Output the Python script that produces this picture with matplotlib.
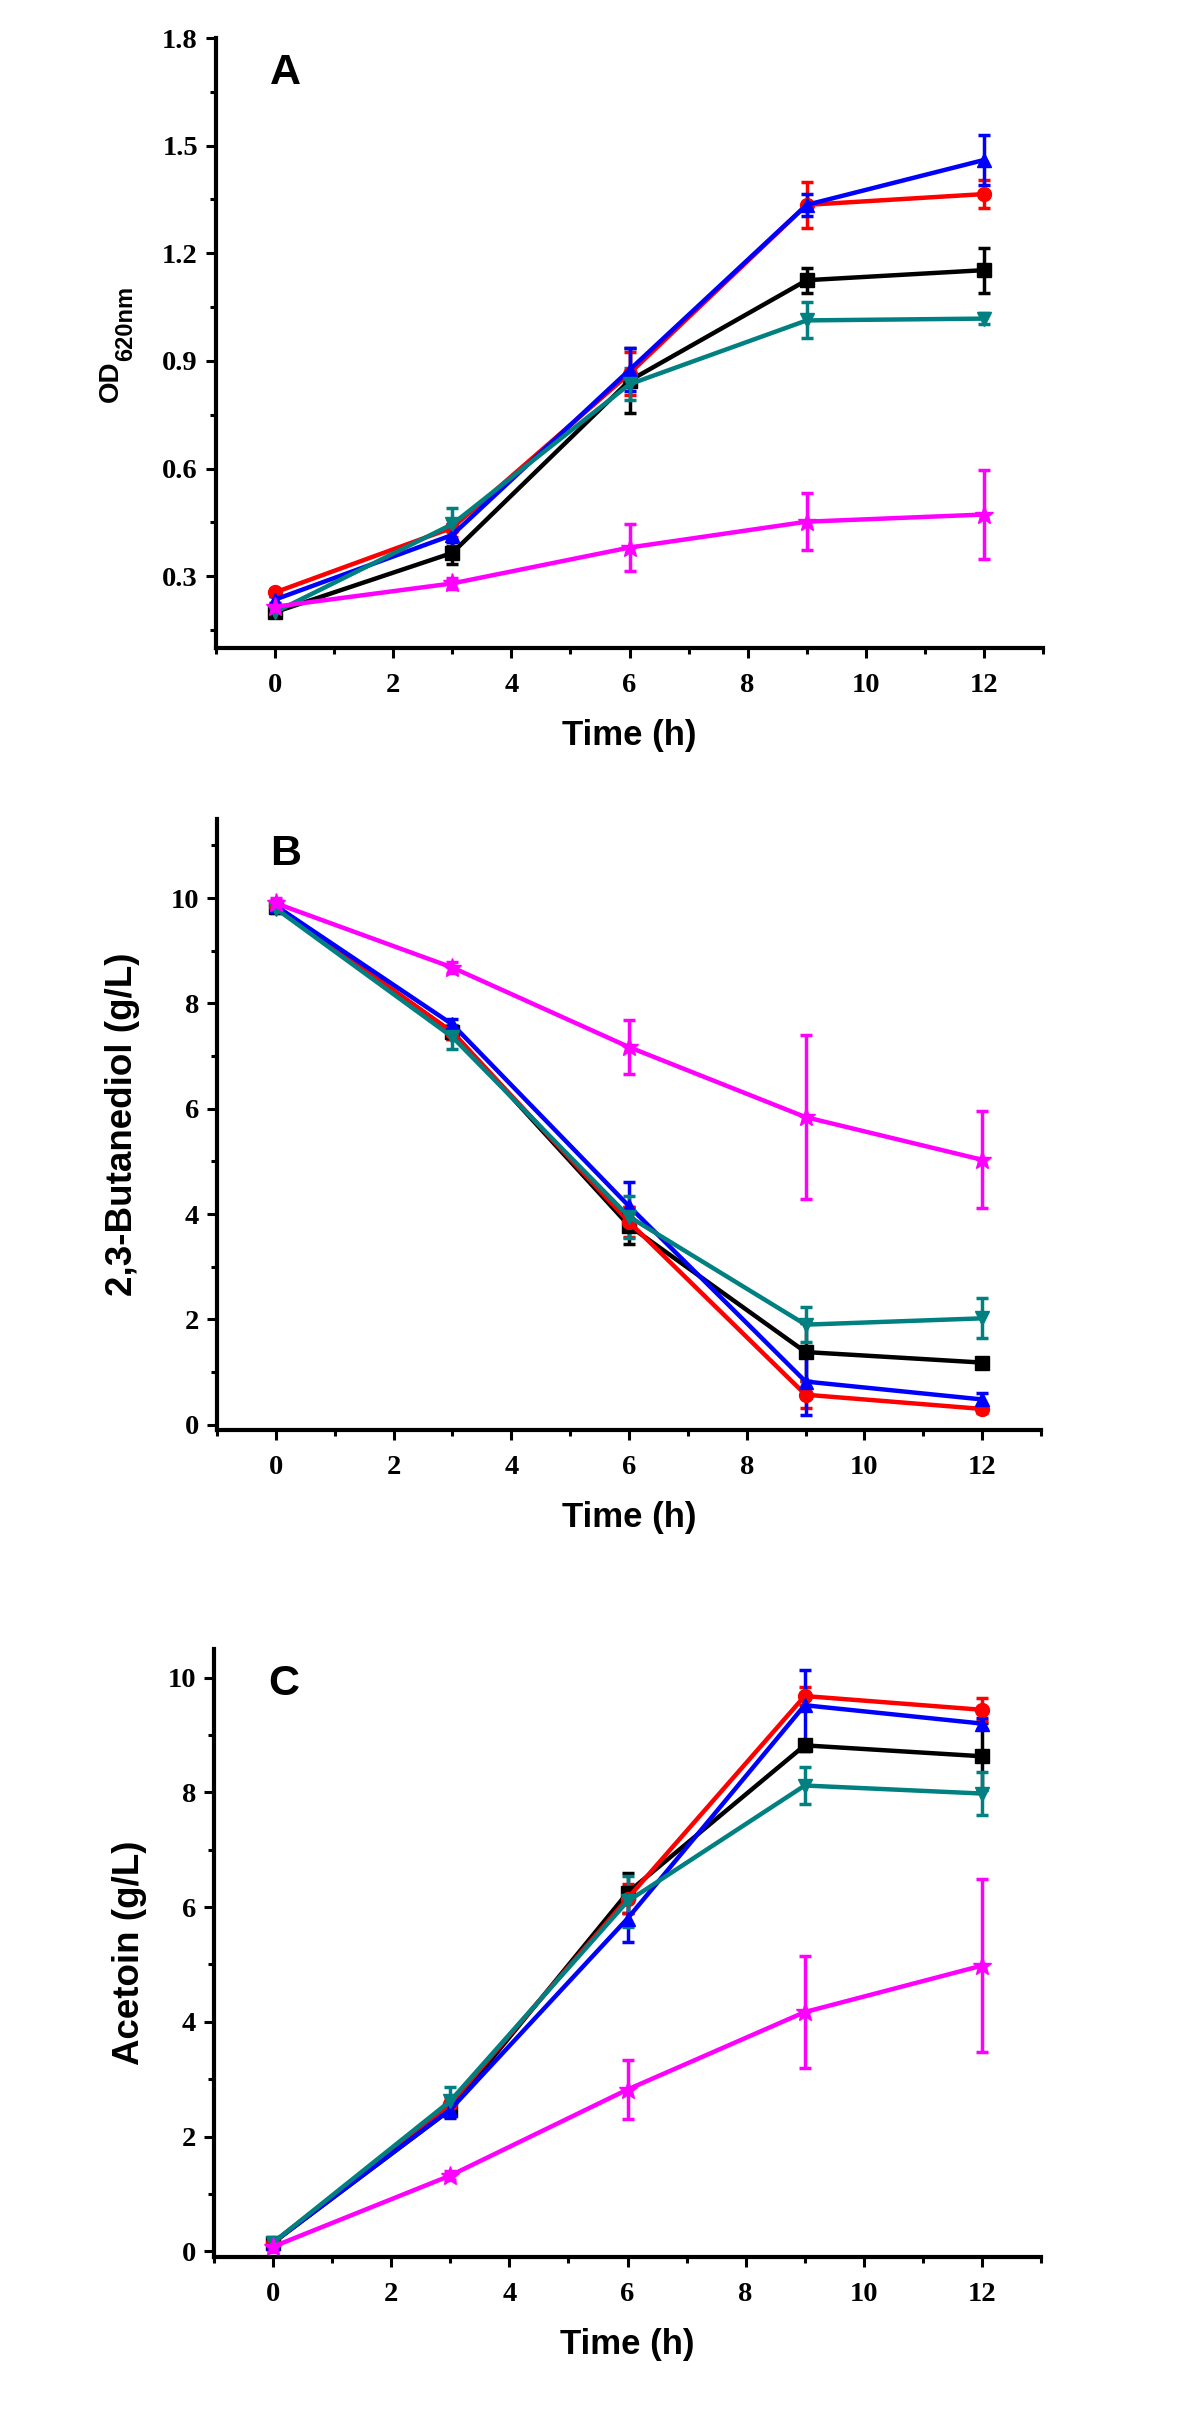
import matplotlib
matplotlib.use("Agg")
import matplotlib.pyplot as plt
from matplotlib.ticker import MultipleLocator

time_h = [0, 3, 6, 9, 12]

colors = ['#000000', '#ff0000', '#0000ff', '#008080', '#ff00ff']
markers = ['s', 'o', '^', 'v', '*']

# A: OD620nm
od_mean = [
    [0.20, 0.365, 0.845, 1.125, 1.153],
    [0.255, 0.435, 0.865, 1.335, 1.365],
    [0.235, 0.415, 0.875, 1.335, 1.46],
    [0.20, 0.445, 0.835, 1.013, 1.018],
    [0.215, 0.28, 0.38, 0.452, 0.472],
]
od_err = [
    [0.01, 0.03, 0.09, 0.035, 0.063],
    [0.01, 0.025, 0.06, 0.065, 0.04],
    [0.01, 0.03, 0.06, 0.03, 0.07],
    [0.01, 0.045, 0.045, 0.05, 0.015],
    [0.01, 0.015, 0.065, 0.08, 0.125],
]

# B: 2,3-butanediol (g/L)
bdo_mean = [
    [9.82, 7.45, 3.78, 1.38, 1.18],
    [9.85, 7.45, 3.85, 0.57, 0.30],
    [9.85, 7.60, 4.15, 0.82, 0.48],
    [9.80, 7.36, 3.95, 1.90, 2.02],
    [9.90, 8.68, 7.17, 5.84, 5.03],
]
bdo_err = [
    [0.05, 0.12, 0.35, 0.55, 0.08],
    [0.05, 0.12, 0.28, 0.26, 0.08],
    [0.05, 0.10, 0.45, 0.63, 0.12],
    [0.08, 0.23, 0.40, 0.33, 0.38],
    [0.10, 0.10, 0.52, 1.56, 0.92],
]

# C: acetoin (g/L)
ace_mean = [
    [0.15, 2.47, 6.25, 8.82, 8.63],
    [0.15, 2.57, 6.15, 9.68, 9.44],
    [0.15, 2.47, 5.80, 9.52, 9.20],
    [0.15, 2.62, 6.10, 8.12, 7.98],
    [0.08, 1.32, 2.82, 4.17, 4.98],
]
ace_err = [
    [0.05, 0.12, 0.35, 0.10, 0.58],
    [0.05, 0.12, 0.25, 0.16, 0.20],
    [0.08, 0.15, 0.40, 0.62, 0.10],
    [0.05, 0.25, 0.45, 0.33, 0.37],
    [0.10, 0.08, 0.52, 0.97, 1.51],
]

W, H = 1200, 2423
fig = plt.figure(figsize=(W / 100, H / 100), dpi=100)

panels = [
    # left, top, right, bottom (pixels), data, err, ylim, major, minor, ylabel, labelpad, size, letter
    (216, 38, 1043, 648, od_mean, od_err, (0.1, 1.8), 0.3, 0.15,
     None, 0, 0, 'A'),
    (217, 819, 1041, 1430, bdo_mean, bdo_err, (-0.1, 11.5), 2, 1,
     '2,3-Butanediol (g/L)', 22, 26.5, 'B'),
    (214, 1649, 1041, 2257, ace_mean, ace_err, (-0.1, 10.5), 2, 1,
     'Acetoin (g/L)', 15, 26.5, 'C'),
]

for (l, t, r, b, means, errs, ylim, major, minor, ylabel, lpad, lsize, letter) in panels:
    ax = fig.add_axes([l / W, 1 - b / H, (r - l) / W, (b - t) / H])
    for m, e, c, mk in zip(means, errs, colors, markers):
        ms = 14 if mk == '*' else 10
        ax.errorbar(time_h, m, yerr=e, color=c, marker=mk, markersize=ms,
                    linewidth=3.2, elinewidth=2.5, capsize=4.5, capthick=2.5)
    ax.set_xlim(-1, 13)
    ax.set_ylim(*ylim)
    ax.xaxis.set_major_locator(MultipleLocator(2))
    ax.xaxis.set_minor_locator(MultipleLocator(1))
    ax.yaxis.set_major_locator(MultipleLocator(major))
    ax.yaxis.set_minor_locator(MultipleLocator(minor))
    if major == 0.3:
        ax.set_yticks([0.3, 0.6, 0.9, 1.2, 1.5, 1.8])
        ax.set_yticklabels(['0.3', '0.6', '0.9', '1.2', '1.5', '1.8'])
    for s in ['top', 'right']:
        ax.spines[s].set_visible(False)
    for s in ['left', 'bottom']:
        ax.spines[s].set_linewidth(3)
    ax.tick_params(which='major', direction='out', length=7, width=2.2)
    ax.tick_params(which='minor', direction='out', length=4, width=2.2)
    ax.tick_params(axis='x', which='major', pad=11)
    ax.tick_params(axis='y', which='major', pad=6)
    for lab in ax.get_xticklabels() + ax.get_yticklabels():
        lab.set_fontfamily('Liberation Serif')
        lab.set_fontweight('bold')
        lab.set_fontsize(20.5)
    ax.set_xlabel('Time (h)', fontfamily='Liberation Sans', fontweight='bold',
                  fontsize=25, labelpad=15)
    if ylabel is not None:
        ax.set_ylabel(ylabel, fontfamily='Liberation Sans', fontweight='bold',
                      fontsize=lsize, labelpad=lpad)
    else:
        # OD with a large subscript, as in the original figure
        ax.text(-0.1185, 0.403, 'OD', transform=ax.transAxes, rotation=90,
                rotation_mode='anchor', ha='left', va='baseline',
                fontfamily='Liberation Sans', fontweight='bold', fontsize=20)
        ax.text(-0.101, 0.471, '620nm', transform=ax.transAxes, rotation=90,
                rotation_mode='anchor', ha='left', va='baseline',
                fontfamily='Liberation Sans', fontweight='bold', fontsize=17)
    ax.text(0.065, 0.975, letter, transform=ax.transAxes, ha='left', va='top',
            fontfamily='Liberation Sans', fontweight='bold', fontsize=31)

fig.savefig('out.png', dpi=100)
